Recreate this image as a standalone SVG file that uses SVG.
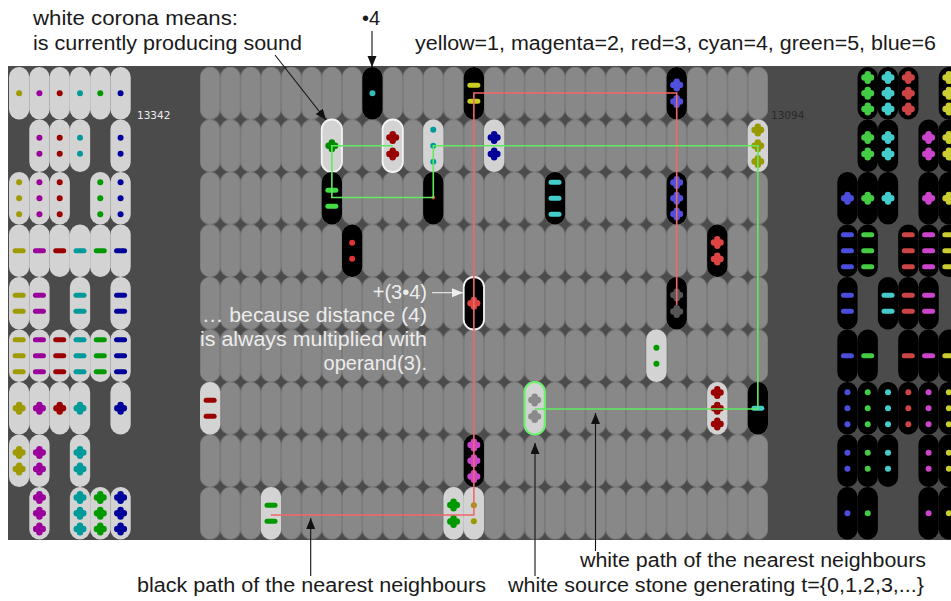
<svg xmlns="http://www.w3.org/2000/svg" xmlns:xlink="http://www.w3.org/1999/xlink" width="951" height="601" viewBox="0 0 951 601">
<style>
.t{font-family:"Liberation Sans",Arial,sans-serif;font-size:20px;fill:#1a1a1a}
.tw{font-family:"Liberation Sans",Arial,sans-serif;font-size:20px;fill:#ececec}
.n{font-family:"DejaVu Sans",sans-serif;font-size:10.5px}
.w{fill:#d3d3d3}
.b{fill:#000}
.cor{stroke:#f4f4f4;stroke-width:1.8}
.gcor{stroke:#6ef06e;stroke-width:2.2}
.ln{fill:none;stroke:#111;stroke-width:1.1}
.red{fill:none;stroke:#f06868;stroke-width:1.6}
.grn{fill:none;stroke:#60ea60;stroke-width:1.6}
</style>
<defs>
<pattern id="grid" patternUnits="userSpaceOnUse" x="200" y="67" width="20.2857" height="52.5">
<rect x="0.2" y="0.1" width="19.9" height="52.3" rx="9.8" fill="#888" stroke="#7b7b7b" stroke-width="0.6"/>
</pattern>
<rect id="s" width="20.29" height="52.5" rx="10"/>
<circle id="dot" r="3"/>
<rect id="dash" x="-6.5" y="-2.5" width="13" height="5" rx="2.5"/>
<g id="crs"><rect x="-6.5" y="-3.2" width="13" height="6.4" rx="3.2"/><rect x="-3.2" y="-6.5" width="6.4" height="13" rx="3.2"/></g>
<g id="d1"><use href="#dot" x="10.14" y="26.25"/></g>
<g id="d2"><use href="#dot" x="10.14" y="18.25"/><use href="#dot" x="10.14" y="34.25"/></g>
<g id="d3"><use href="#dot" x="10.14" y="10.25"/><use href="#dot" x="10.14" y="26.25"/><use href="#dot" x="10.14" y="42.25"/></g>
<g id="h1"><use href="#dash" x="10.14" y="26.25"/></g>
<g id="h2"><use href="#dash" x="10.14" y="18.25"/><use href="#dash" x="10.14" y="34.25"/></g>
<g id="h3"><use href="#dash" x="10.14" y="10.25"/><use href="#dash" x="10.14" y="26.25"/><use href="#dash" x="10.14" y="42.25"/></g>
<g id="x1"><use href="#crs" x="10.14" y="26.25"/></g>
<g id="x2"><use href="#crs" x="10.14" y="18"/><use href="#crs" x="10.14" y="34.5"/></g>
<g id="x3"><use href="#crs" x="10.14" y="10.5"/><use href="#crs" x="10.14" y="26.25"/><use href="#crs" x="10.14" y="42"/></g>
<marker id="ah" markerUnits="userSpaceOnUse" markerWidth="12" markerHeight="10" refX="11" refY="4.5" orient="auto"><path d="M0,0 L11,4.5 L0,9 z" fill="#111"/></marker>
<marker id="ahw" markerUnits="userSpaceOnUse" markerWidth="12" markerHeight="10" refX="11" refY="4.5" orient="auto"><path d="M0,0 L11,4.5 L0,9 z" fill="#eee"/></marker>
</defs>
<rect width="951" height="601" fill="#fff"/>
<rect id="board" x="8" y="66" width="943" height="474" fill="#4b4b4b"/>

<g id="left-panel">
<g transform="translate(9,67)" fill="#9e9a00"><use href="#s" class="w"/><use href="#d1"/></g>
<g transform="translate(29.29,67)" fill="#9c009c"><use href="#s" class="w"/><use href="#d1"/></g>
<g transform="translate(49.57,67)" fill="#9a0000"><use href="#s" class="w"/><use href="#d1"/></g>
<g transform="translate(69.86,67)" fill="#009a9a"><use href="#s" class="w"/><use href="#d1"/></g>
<g transform="translate(90.14,67)" fill="#009a00"><use href="#s" class="w"/><use href="#d1"/></g>
<g transform="translate(110.43,67)" fill="#00009a"><use href="#s" class="w"/><use href="#d1"/></g>

<g transform="translate(29.29,119.5)" fill="#9c009c"><use href="#s" class="w"/><use href="#d2"/></g>
<g transform="translate(49.57,119.5)" fill="#9a0000"><use href="#s" class="w"/><use href="#d2"/></g>
<g transform="translate(69.86,119.5)" fill="#009a9a"><use href="#s" class="w"/><use href="#d2"/></g>
<g transform="translate(110.43,119.5)" fill="#00009a"><use href="#s" class="w"/><use href="#d2"/></g>

<g transform="translate(9,172)" fill="#9e9a00"><use href="#s" class="w"/><use href="#d3"/></g>
<g transform="translate(29.29,172)" fill="#9c009c"><use href="#s" class="w"/><use href="#d3"/></g>
<g transform="translate(49.57,172)" fill="#9a0000"><use href="#s" class="w"/><use href="#d3"/></g>
<g transform="translate(90.14,172)" fill="#009a00"><use href="#s" class="w"/><use href="#d3"/></g>
<g transform="translate(110.43,172)" fill="#00009a"><use href="#s" class="w"/><use href="#d3"/></g>

<g transform="translate(9,224.5)" fill="#9e9a00"><use href="#s" class="w"/><use href="#h1"/></g>
<g transform="translate(29.29,224.5)" fill="#9c009c"><use href="#s" class="w"/><use href="#h1"/></g>
<g transform="translate(49.57,224.5)" fill="#9a0000"><use href="#s" class="w"/><use href="#h1"/></g>
<g transform="translate(69.86,224.5)" fill="#009a9a"><use href="#s" class="w"/><use href="#h1"/></g>
<g transform="translate(90.14,224.5)" fill="#009a00"><use href="#s" class="w"/><use href="#h1"/></g>
<g transform="translate(110.43,224.5)" fill="#00009a"><use href="#s" class="w"/><use href="#h1"/></g>

<g transform="translate(9,277)" fill="#9e9a00"><use href="#s" class="w"/><use href="#h2"/></g>
<g transform="translate(29.29,277)" fill="#9c009c"><use href="#s" class="w"/><use href="#h2"/></g>
<g transform="translate(69.86,277)" fill="#009a9a"><use href="#s" class="w"/><use href="#h2"/></g>
<g transform="translate(110.43,277)" fill="#00009a"><use href="#s" class="w"/><use href="#h2"/></g>

<g transform="translate(9,329.5)" fill="#9e9a00"><use href="#s" class="w"/><use href="#h3"/></g>
<g transform="translate(29.29,329.5)" fill="#9c009c"><use href="#s" class="w"/><use href="#h3"/></g>
<g transform="translate(49.57,329.5)" fill="#9a0000"><use href="#s" class="w"/><use href="#h3"/></g>
<g transform="translate(69.86,329.5)" fill="#009a9a"><use href="#s" class="w"/><use href="#h3"/></g>
<g transform="translate(90.14,329.5)" fill="#009a00"><use href="#s" class="w"/><use href="#h3"/></g>
<g transform="translate(110.43,329.5)" fill="#00009a"><use href="#s" class="w"/><use href="#h3"/></g>

<g transform="translate(9,382)" fill="#9e9a00"><use href="#s" class="w"/><use href="#x1"/></g>
<g transform="translate(29.29,382)" fill="#9c009c"><use href="#s" class="w"/><use href="#x1"/></g>
<g transform="translate(49.57,382)" fill="#9a0000"><use href="#s" class="w"/><use href="#x1"/></g>
<g transform="translate(69.86,382)" fill="#009a9a"><use href="#s" class="w"/><use href="#x1"/></g>
<g transform="translate(110.43,382)" fill="#00009a"><use href="#s" class="w"/><use href="#x1"/></g>

<g transform="translate(9,434.5)" fill="#9e9a00"><use href="#s" class="w"/><use href="#x2"/></g>
<g transform="translate(29.29,434.5)" fill="#9c009c"><use href="#s" class="w"/><use href="#x2"/></g>
<g transform="translate(69.86,434.5)" fill="#009a9a"><use href="#s" class="w"/><use href="#x2"/></g>

<g transform="translate(29.29,487)" fill="#9c009c"><use href="#s" class="w"/><use href="#x3"/></g>
<g transform="translate(69.86,487)" fill="#009a9a"><use href="#s" class="w"/><use href="#x3"/></g>
<g transform="translate(90.14,487)" fill="#009a00"><use href="#s" class="w"/><use href="#x3"/></g>
<g transform="translate(110.43,487)" fill="#00009a"><use href="#s" class="w"/><use href="#x3"/></g>
<text class="n" x="137" y="119" fill="#eeeeee">13342</text>
</g>

<g id="middle-grid">
<rect x="200" y="67" width="568" height="472.5" fill="url(#grid)"/>
<g id="m-0-8" transform="translate(362.29,67)" fill="#33bbbb"><use href="#s" class="b"/><use href="#d1"/></g>
<g id="m-0-13" transform="translate(463.71,67)" fill="#cccc22"><use href="#s" class="b"/><use href="#h2"/></g>
<g id="m-0-23" transform="translate(666.57,67)" fill="#5050dd"><use href="#s" class="b"/><use href="#x2"/></g>
<g id="m-1-6" transform="translate(321.71,119.5)" fill="#008800"><use href="#s" class="w cor"/><use href="#x1"/></g>
<g id="m-1-9" transform="translate(382.57,119.5)" fill="#990000"><use href="#s" class="w cor"/><use href="#x2"/></g>
<g id="m-1-11" transform="translate(423.14,119.5)" fill="#009999"><use href="#s" class="w"/><use href="#d3"/></g>
<g id="m-1-14" transform="translate(484,119.5)" fill="#000099"><use href="#s" class="w"/><use href="#x2"/></g>
<g id="m-1-27" transform="translate(747.71,119.5)" fill="#999900"><use href="#s" class="w"/><use href="#x3"/></g>
<g id="m-2-6" transform="translate(321.71,172)" fill="#44dd44"><use href="#s" class="b"/><use href="#h2"/></g>
<g id="m-2-11" transform="translate(423.14,172)"><use href="#s" class="b"/><circle cx="10.14" cy="25.5" r="2" fill="#dd3333"/></g>
<g id="m-2-17" transform="translate(544.86,172)" fill="#44cccc"><use href="#s" class="b"/><use href="#h3"/></g>
<g id="m-2-23" transform="translate(666.57,172)" fill="#5050dd"><use href="#s" class="b"/><use href="#x3"/></g>
<g id="m-3-7" transform="translate(342,224.5)" fill="#dd3333"><use href="#s" class="b"/><use href="#d2"/></g>
<g id="m-3-25" transform="translate(707.14,224.5)" fill="#dd4444"><use href="#s" class="b"/><use href="#x2"/></g>
<g id="m-4-13" transform="translate(463.71,277)" fill="#dd4444"><use href="#s" class="b cor"/><use href="#x1"/></g>
<g id="m-4-23" transform="translate(666.57,277)" fill="#555555"><use href="#s" class="b"/><use href="#x2"/></g>
<g id="m-5-22" transform="translate(646.29,329.5)" fill="#009900"><use href="#s" class="w"/><use href="#d2"/></g>
<g id="m-6-0" transform="translate(200,382)" fill="#990000"><use href="#s" class="w"/><use href="#h2"/></g>
<g id="m-6-16" transform="translate(524.57,382)" fill="#8a8a8a"><use href="#s" class="w gcor"/><use href="#x2"/></g>
<g id="m-6-25" transform="translate(707.14,382)" fill="#990000"><use href="#s" class="w"/><use href="#x3"/></g>
<g id="m-6-27" transform="translate(747.71,382)" fill="#44cccc"><use href="#s" class="b"/><use href="#h1"/></g>
<g id="m-7-13" transform="translate(463.71,434.5)" fill="#cc44cc"><use href="#s" class="b"/><use href="#x3"/></g>
<g id="m-8-3" transform="translate(260.86,487)" fill="#009900"><use href="#s" class="w"/><use href="#h2"/></g>
<g id="m-8-12" transform="translate(443.43,487)" fill="#009900"><use href="#s" class="w"/><use href="#x2"/></g>
<g id="m-8-13" transform="translate(463.71,487)" fill="#999900"><use href="#s" class="w"/><use href="#d2"/></g>
<text class="n" x="771" y="119" fill="#2a2a2a">13094</text>
</g>

<g id="right-panel">
<g transform="translate(857.59,67)" fill="#44cc44"><use href="#s" class="b"/><use href="#x3"/></g>
<g transform="translate(877.87,67)" fill="#44cccc"><use href="#s" class="b"/><use href="#x3"/></g>
<g transform="translate(898.16,67)" fill="#cc4444"><use href="#s" class="b"/><use href="#x3"/></g>
<g transform="translate(938.73,67)" fill="#cccc33"><use href="#s" class="b"/><use href="#x3"/></g>

<g transform="translate(857.59,119.5)" fill="#44cc44"><use href="#s" class="b"/><use href="#x2"/></g>
<g transform="translate(877.87,119.5)" fill="#44cccc"><use href="#s" class="b"/><use href="#x2"/></g>
<g transform="translate(918.44,119.5)" fill="#cc44cc"><use href="#s" class="b"/><use href="#x2"/></g>
<g transform="translate(938.73,119.5)" fill="#cccc33"><use href="#s" class="b"/><use href="#x2"/></g>

<g transform="translate(837.3,172)" fill="#4d4ddd"><use href="#s" class="b"/><use href="#x1"/></g>
<g transform="translate(857.59,172)" fill="#44cc44"><use href="#s" class="b"/><use href="#x1"/></g>
<g transform="translate(877.87,172)" fill="#44cccc"><use href="#s" class="b"/><use href="#x1"/></g>
<g transform="translate(918.44,172)" fill="#cc44cc"><use href="#s" class="b"/><use href="#x1"/></g>
<g transform="translate(938.73,172)" fill="#cccc33"><use href="#s" class="b"/><use href="#x1"/></g>

<g transform="translate(837.3,224.5)" fill="#4d4ddd"><use href="#s" class="b"/><use href="#h3"/></g>
<g transform="translate(857.59,224.5)" fill="#44cc44"><use href="#s" class="b"/><use href="#h3"/></g>
<g transform="translate(898.16,224.5)" fill="#cc4444"><use href="#s" class="b"/><use href="#h3"/></g>
<g transform="translate(918.44,224.5)" fill="#cc44cc"><use href="#s" class="b"/><use href="#h3"/></g>
<g transform="translate(938.73,224.5)" fill="#cccc33"><use href="#s" class="b"/><use href="#h3"/></g>

<g transform="translate(837.3,277)" fill="#4d4ddd"><use href="#s" class="b"/><use href="#h2"/></g>
<g transform="translate(877.87,277)" fill="#44cccc"><use href="#s" class="b"/><use href="#h2"/></g>
<g transform="translate(898.16,277)" fill="#cc4444"><use href="#s" class="b"/><use href="#h2"/></g>
<g transform="translate(918.44,277)" fill="#cc44cc"><use href="#s" class="b"/><use href="#h2"/></g>

<g transform="translate(837.3,329.5)" fill="#4d4ddd"><use href="#s" class="b"/><use href="#h1"/></g>
<g transform="translate(857.59,329.5)" fill="#44cc44"><use href="#s" class="b"/><use href="#h1"/></g>
<g transform="translate(898.16,329.5)" fill="#cc4444"><use href="#s" class="b"/><use href="#h1"/></g>
<g transform="translate(918.44,329.5)" fill="#cc44cc"><use href="#s" class="b"/><use href="#h1"/></g>
<g transform="translate(938.73,329.5)" fill="#cccc33"><use href="#s" class="b"/><use href="#h1"/></g>

<g transform="translate(837.3,382)" fill="#4d4ddd"><use href="#s" class="b"/><use href="#d3"/></g>
<g transform="translate(857.59,382)" fill="#44cc44"><use href="#s" class="b"/><use href="#d3"/></g>
<g transform="translate(877.87,382)" fill="#44cccc"><use href="#s" class="b"/><use href="#d3"/></g>
<g transform="translate(898.16,382)" fill="#cc4444"><use href="#s" class="b"/><use href="#d3"/></g>
<g transform="translate(918.44,382)" fill="#cc44cc"><use href="#s" class="b"/><use href="#d3"/></g>
<g transform="translate(938.73,382)" fill="#cccc33"><use href="#s" class="b"/><use href="#d3"/></g>

<g transform="translate(837.3,434.5)" fill="#4d4ddd"><use href="#s" class="b"/><use href="#d2"/></g>
<g transform="translate(857.59,434.5)" fill="#44cc44"><use href="#s" class="b"/><use href="#d2"/></g>
<g transform="translate(877.87,434.5)" fill="#44cccc"><use href="#s" class="b"/><use href="#d2"/></g>
<g transform="translate(918.44,434.5)" fill="#cc44cc"><use href="#s" class="b"/><use href="#d2"/></g>
<g transform="translate(938.73,434.5)" fill="#cccc33"><use href="#s" class="b"/><use href="#d2"/></g>

<g transform="translate(837.3,487)" fill="#4d4ddd"><use href="#s" class="b"/><use href="#d1"/></g>
<g transform="translate(857.59,487)" fill="#44cc44"><use href="#s" class="b"/><use href="#d1"/></g>
<g transform="translate(918.44,487)" fill="#cc44cc"><use href="#s" class="b"/><use href="#d1"/></g>
<g transform="translate(938.73,487)" fill="#cccc33"><use href="#s" class="b"/><use href="#d1"/></g>
</g>

<g id="connectors">
<polyline id="black-path" class="red" points="271,515 473.86,515 473.86,93 676.71,93 676.71,305"/>
<polyline id="white-path" class="grn" points="392.71,145.75 331.86,145.75 331.86,197.5 433.29,197.5 433.29,145.75 757.86,145.75 757.86,409 534.71,409"/>
<line class="ln" x1="275" y1="55" x2="326" y2="120" marker-end="url(#ah)"/>
<line class="ln" x1="372" y1="31" x2="372" y2="67" marker-end="url(#ah)"/>
<line class="ln" x1="310.7" y1="576" x2="310.7" y2="518" marker-end="url(#ah)"/>
<line class="ln" x1="535" y1="576" x2="535" y2="443" marker-end="url(#ah)"/>
<line class="ln" x1="595.5" y1="551" x2="595.5" y2="413" marker-end="url(#ah)"/>
<line x1="432" y1="292.7" x2="463" y2="292.7" stroke="#eeeeee" stroke-width="1.1" marker-end="url(#ahw)"/>
</g>

<g id="labels">
<text class="t" x="33" y="25" textLength="205" lengthAdjust="spacingAndGlyphs">white corona means:</text>
<text class="t" x="33" y="50" textLength="269" lengthAdjust="spacingAndGlyphs">is currently producing sound</text>
<text class="t" x="362" y="25">•4</text>
<text class="t" x="415" y="50" textLength="521" lengthAdjust="spacingAndGlyphs">yellow=1, magenta=2, red=3, cyan=4, green=5, blue=6</text>
<text class="tw" x="427" y="299" text-anchor="end">+(3•4)</text>
<text class="tw" x="427" y="322" text-anchor="end" textLength="225" lengthAdjust="spacingAndGlyphs">… because distance (4)</text>
<text class="tw" x="427" y="346" text-anchor="end" textLength="227" lengthAdjust="spacingAndGlyphs">is always multiplied with</text>
<text class="tw" x="427" y="370" text-anchor="end">operand(3).</text>
<text class="t" x="580" y="567" textLength="346" lengthAdjust="spacingAndGlyphs">white path of the nearest neighbours</text>
<text class="t" x="137" y="592" textLength="349" lengthAdjust="spacingAndGlyphs">black path of the nearest neighbours</text>
<text class="t" x="508" y="592" textLength="416" lengthAdjust="spacingAndGlyphs">white source stone generating t={0,1,2,3,...}</text>
</g>
</svg>
